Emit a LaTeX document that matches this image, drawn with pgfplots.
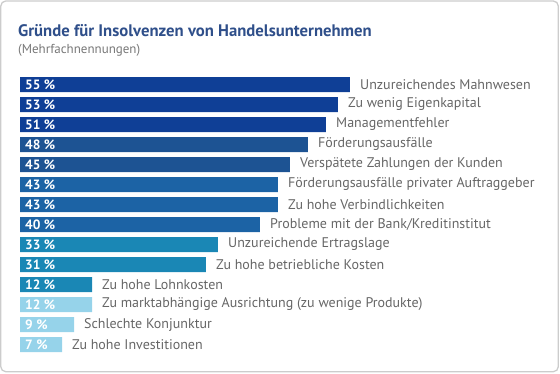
\documentclass[border=0pt]{standalone}
\usepackage{fontspec}
\setmainfont{PT Sans}
\usepackage{pgfplots}
\usepackage{pgfplotstable}
\pgfplotsset{compat=1.18}
\definecolor{cA}{HTML}{0F3F96}
\definecolor{cB}{HTML}{1D5393}
\definecolor{cC}{HTML}{1C63A5}
\definecolor{cD}{HTML}{1A87B5}
\definecolor{cE}{HTML}{96D3EA}
\definecolor{titleblue}{HTML}{2F4F8A}
\definecolor{labelgray}{HTML}{666666}
\definecolor{subgray}{HTML}{777777}
\definecolor{framegray}{HTML}{CCCCCC}

\pgfplotstableread[col sep=comma]{
y,v,name
0,55,Unzureichendes Mahnwesen
1,53,Zu wenig Eigenkapital
2,51,Managementfehler
3,48,Förderungsausfälle
4,45,Verspätete Zahlungen der Kunden
5,43,Förderungsausfälle privater Auftraggeber
6,43,Zu hohe Verbindlichkeiten
7,40,Probleme mit der Bank/Kreditinstitut
8,33,Unzureichende Ertragslage
9,31,Zu hohe betriebliche Kosten
10,12,Zu hohe Lohnkosten
11,12,Zu marktabhängige Ausrichtung (zu wenige Produkte)
12,9,Schlechte Konjunktur
13,7,Zu hohe Investitionen
}\data

\pgfplotsset{
  barstyle/.style={xbar, bar width=15pt, bar shift=0pt, draw=none, fill=#1,
    point meta=explicit symbolic, nodes near coords,
    every node near coord/.append style={anchor=west, inner sep=0pt, xshift=10pt,
      text=labelgray, font=\fontsize{14}{16}\selectfont}},
}

\begin{document}
\begin{tikzpicture}
\useasboundingbox (0,0) rectangle (560pt,373pt);
\draw[framegray, line width=1.3pt, rounded corners=5pt] (0.8pt,1.3pt) rectangle (558.3pt,372pt);
\node[anchor=base west, inner sep=0pt, text=titleblue, font=\bfseries\fontsize{16.7}{19}\selectfont] at (18pt,336pt) {Gründe für Insolvenzen von Handelsunternehmen};
\node[anchor=base west, inner sep=0pt, text=subgray, font=\fontsize{13}{15}\selectfont] at (18pt,319pt) {(Mehrfachnennungen)};
\begin{axis}[
  at={(20pt,298.5pt)}, anchor=north west,
  scale only axis, width=330pt, height=280pt,
  xmin=0, xmax=55, ymin=-0.5, ymax=13.5, y dir=reverse,
  axis lines=none, clip=false,
]
\addplot[barstyle=cA, restrict y to domain=0:2] table[x=v, y=y, meta=name] {\data};
\addplot[barstyle=cB, restrict y to domain=3:4] table[x=v, y=y, meta=name] {\data};
\addplot[barstyle=cC, restrict y to domain=5:7] table[x=v, y=y, meta=name] {\data};
\addplot[barstyle=cD, restrict y to domain=8:10] table[x=v, y=y, meta=name] {\data};
\addplot[barstyle=cE, restrict y to domain=11:13] table[x=v, y=y, meta=name] {\data};
\addplot[draw=none, mark=none, point meta=explicit symbolic,
  nodes near coords={\pgfplotspointmeta{} \%},
  every node near coord/.append style={anchor=west, inner sep=0pt, xshift=5pt,
    text=white, font=\bfseries\fontsize{13.5}{15}\selectfont}]
  table[x expr=0, y=y, meta=v] {\data};
\end{axis}
\end{tikzpicture}
\end{document}
